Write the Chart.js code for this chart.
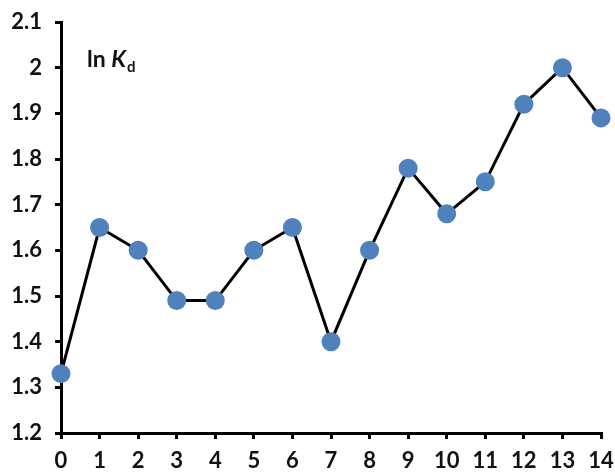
<!DOCTYPE html>
<html>
<head>
<meta charset="utf-8">
<script src="https://cdn.jsdelivr.net/npm/chart.js@4/dist/chart.umd.min.js"></script>
<style>
html,body{margin:0;padding:0;background:#fff;}
#wrap{width:615px;height:472px;position:relative;}
</style>
</head>
<body>
<div id="wrap"><canvas id="c" width="615" height="472"></canvas></div>
<script>
const categories = ["0","1","2","3","4","5","6","7","8","9","10","11","12","13","14"];
const lnKd = [1.33,1.65,1.60,1.49,1.49,1.60,1.65,1.40,1.60,1.78,1.68,1.75,1.92,2.00,1.89];
const yTicks = [1.2,1.3,1.4,1.5,1.6,1.7,1.8,1.9,2.0,2.1];
const yLabels = ["1.2","1.3","1.4","1.5","1.6","1.7","1.8","1.9","2","2.1"];

const FONT = "Lato, 'Open Sans', sans-serif";

const labelPlugin = {
  id: 'lnkd',
  afterDraw(chart){
    const ctx = chart.ctx;
    ctx.save();
    ctx.fillStyle = '#111';
    ctx.textBaseline = 'alphabetic';
    let x = 87, y = 67;
    ctx.font = "bold 23px " + FONT;
    ctx.fillText("ln ", x, y);
    x += ctx.measureText("ln ").width;
    ctx.font = "italic bold 23px " + FONT;
    ctx.fillText("K", x, y);
    x += ctx.measureText("K").width + 1;
    ctx.font = "bold 15px " + FONT;
    ctx.fillText("d", x, y + 5);
    ctx.restore();
  }
};

new Chart(document.getElementById('c'), {
  type: 'line',
  data: {
    labels: categories,
    datasets: [{
      data: lnKd,
      borderColor: '#000',
      borderWidth: 3,
      backgroundColor: '#4f81bd',
      pointBackgroundColor: '#4f81bd',
      pointBorderColor: '#4f81bd',
      pointRadius: 9.5,
      pointBorderWidth: 0,
      tension: 0,
      clip: false
    }]
  },
  options: {
    responsive: false,
    animation: false,
    events: [],
    layout: { padding: { top: 22, right: 14, left: 0, bottom: 0 } },
    plugins: { legend: { display: false }, tooltip: { enabled: false } },
    scales: {
      x: {
        type: 'category',
        offset: false,
        grid: { display: true, drawOnChartArea: false, drawTicks: true, tickLength: 6, color: '#000', lineWidth: 3 },
        border: { display: true, color: '#000', width: 3 },
        ticks: { color: '#111', font: { family: FONT, size: 22, weight: 'bold' }, padding: 9, maxRotation: 0, autoSkip: false },
        afterFit(s){ s.height = 39; s.paddingLeft = 0; s.paddingRight = 0; }
      },
      y: {
        min: 1.2, max: 2.1,
        afterBuildTicks(s){ s.ticks = yTicks.map(v => ({value: v})); },
        grid: { display: true, drawOnChartArea: false, drawTicks: true, tickLength: 6, color: '#000', lineWidth: 3 },
        border: { display: true, color: '#000', width: 3 },
        ticks: {
          color: '#111', font: { family: FONT, size: 22, weight: 'bold' }, padding: 13,
          callback(v){ const i = yTicks.findIndex(t => Math.abs(t - v) < 1e-6); return i >= 0 ? yLabels[i] : ''; }
        },
        afterFit(s){ s.width = 61; s.paddingTop = 0; s.paddingBottom = 0; }
      }
    }
  },
  plugins: [labelPlugin]
});
</script>
</body>
</html>
